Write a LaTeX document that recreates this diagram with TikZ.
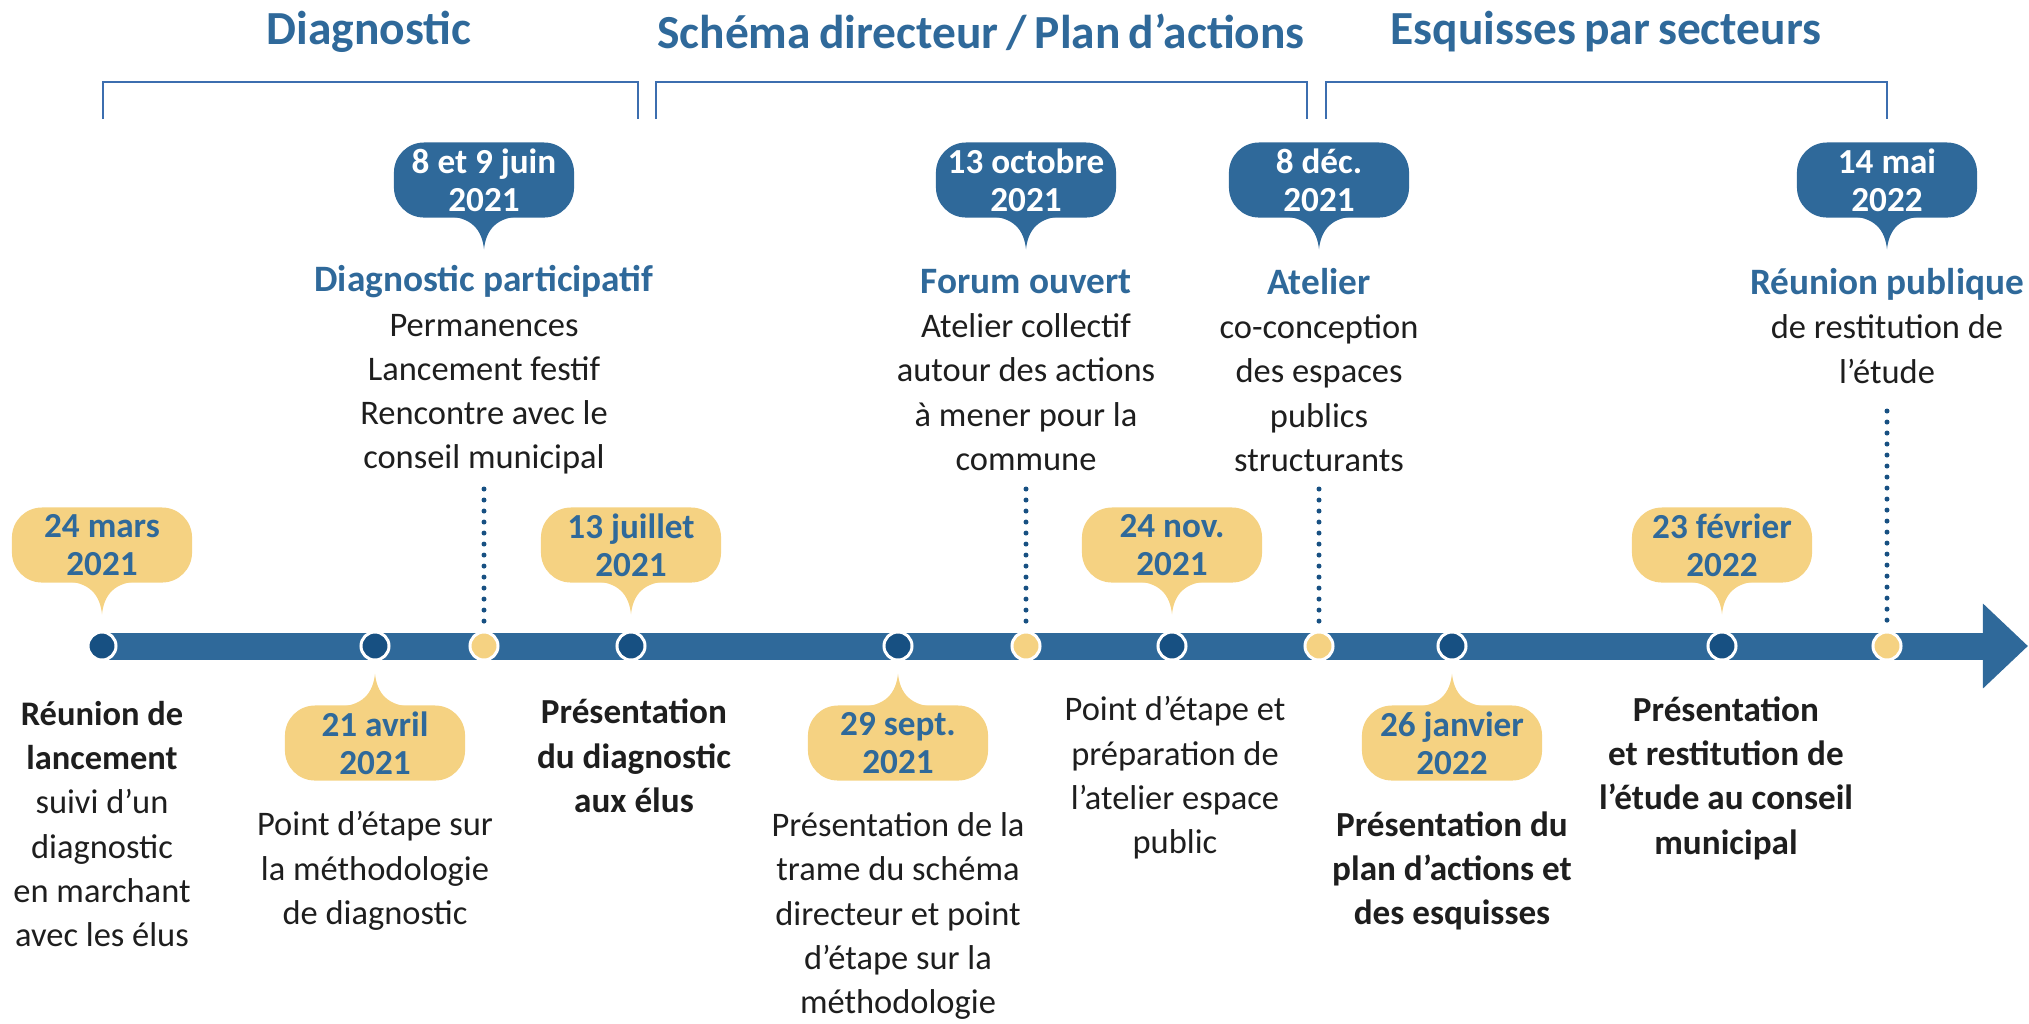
\documentclass[tikz,border=0pt]{standalone}
\usepackage{fontspec}
\setmainfont{Carlito}
\usetikzlibrary{arrows.meta,positioning}

\definecolor{barblue}{RGB}{47,105,154}
\definecolor{dotblue}{RGB}{23,80,130}
\definecolor{yel}{RGB}{245,210,130}
\definecolor{brk}{RGB}{60,110,175}
\definecolor{ink}{RGB}{30,30,30}

\newcommand{\phasefont}{\fontsize{13.5}{16}\selectfont\bfseries\spaceskip=0.17em\relax}
\tikzset{
  phase/.style={text=barblue,font=\phasefont,inner sep=0pt},
  bracket/.style={brk,line width=0.6pt},
  axis/.style={barblue,line width=0.27cm,-{Triangle[length=0.45cm,width=0.82cm]}},
  evdot/.style={circle,fill=dotblue,draw=white,line width=0.03cm,minimum size=0.28cm,inner sep=0pt},
  yeldot/.style={evdot,fill=yel},
  datebox/.style={rounded corners=0.3cm,minimum width=1.8cm,minimum height=0.75cm,inner sep=0pt,
    align=center,font=\fontsize{10}{10.8}\selectfont\bfseries},
  yelbox/.style={datebox,fill=yel,text=barblue},
  bluebox/.style={datebox,fill=barblue,text=white},
  evtxt/.style={align=center,inner sep=0pt,text=ink,font=\fontsize{9.8}{12.6}\selectfont},
  evbold/.style={evtxt,font=\fontsize{10}{12.6}\selectfont\bfseries},
  dotline/.style={dotblue,line width=0.05cm,line cap=round,dash pattern=on 0pt off 0.11cm}
}

\newcommand{\evtitle}[1]{\textcolor{barblue}{\fontsize{10.6}{12.6}\selectfont\bfseries #1}}
% pointer under / over a date box
\newcommand{\taildown}[2]{\fill[#2] ([xshift=-0.4cm,yshift=0.02cm]#1.south) .. controls +(0.28cm,0) and +(-0.02cm,0.19cm) .. ([yshift=-0.31cm]#1.south) .. controls +(0.02cm,0.19cm) and +(-0.28cm,0) .. ([xshift=0.4cm,yshift=0.02cm]#1.south) -- cycle;}
\newcommand{\tailup}[2]{\fill[#2] ([xshift=-0.4cm,yshift=-0.02cm]#1.north) .. controls +(0.28cm,0) and +(-0.02cm,-0.19cm) .. ([yshift=0.31cm]#1.north) .. controls +(0.02cm,-0.19cm) and +(-0.28cm,0) .. ([xshift=0.4cm,yshift=-0.02cm]#1.north) -- cycle;}

\begin{document}
\begin{tikzpicture}[x=0.01cm,y=-0.01cm]
	\useasboundingbox (0,0) rectangle (2029,1023);

	% phases
	\node[phase](hdiag) at (369,32){Diagnostic};
	\node[phase](hschema) at (981,32){Schéma directeur / Plan d’actions};
	\node[phase](hesq) at (1606,32){Esquisses par secteurs};
	\draw[bracket] (103,119) |- (638,82) -- (638,119);
	\draw[bracket] (656,119) |- (1307,82) -- (1307,119);
	\draw[bracket] (1326,119) |- (1887,82) -- (1887,119);

	% timeline
	\coordinate (tstart) at (102,646);
	\coordinate (tend) at (2028,646);
	\draw[axis] (tstart) -- (tend);

	\node[evdot](mars) at (102,646){};
	\node[evdot](avril) at (375,646){};
	\node[yeldot](juin) at (484,646){};
	\node[evdot](juillet) at (631,646){};
	\node[evdot](sept) at (898,646){};
	\node[yeldot](oct) at (1026,646){};
	\node[evdot](nov) at (1172,646){};
	\node[yeldot](dec) at (1319,646){};
	\node[evdot](janv) at (1452,646){};
	\node[evdot](fev) at (1722,646){};
	\node[yeldot](mai) at (1887,646){};

	% dates
	\node[yelbox](cmars) at (102,545){24 mars\\2021}; \taildown{cmars}{yel}
	\node[yelbox](cjuillet) at (631,545){13 juillet\\2021}; \taildown{cjuillet}{yel}
	\node[yelbox](cnov) at (1172,545){24 nov.\\2021}; \taildown{cnov}{yel}
	\node[yelbox](cfev) at (1722,545){23 février\\2022}; \taildown{cfev}{yel}
	\node[bluebox](cjuin) at (484,180){8 et 9 juin\\2021}; \taildown{cjuin}{barblue}
	\node[bluebox](coct) at (1026,180){13 octobre\\2021}; \taildown{coct}{barblue}
	\node[bluebox](cdec) at (1319,180){8 déc.\\2021}; \taildown{cdec}{barblue}
	\node[bluebox](cmai) at (1887,180){14 mai\\2022}; \taildown{cmai}{barblue}
	\node[yelbox](cavril) at (375,743){21 avril\\2021}; \tailup{cavril}{yel}
	\node[yelbox](csept) at (898,743){29 sept.\\2021}; \tailup{csept}{yel}
	\node[yelbox](cjanv) at (1452,743){26 janvier\\2022}; \tailup{cjanv}{yel}

	% events above
	\node[evtxt](tjuin) at (484,370){\evtitle{Diagnostic participatif}\\Permanences\\Lancement festif\\Rencontre avec le\\conseil municipal};
	\node[evtxt](toct) at (1026,370){\evtitle{Forum ouvert}\\Atelier collectif\\autour des actions\\à mener pour la\\commune};
	\node[evtxt](tdec) at (1319,370){\evtitle{Atelier}\\co-conception\\des espaces\\publics\\structurants};
	\node[evtxt](tmai) at (1887,326){\evtitle{Réunion publique}\\de restitution de\\l’étude};

	\coordinate (ljuin) at (484,489);
	\coordinate (loct) at (1026,489);
	\coordinate (ldec) at (1319,489);
	\coordinate (lmai) at (1887,411);
	\draw[dotline] (ljuin) -- (juin);
	\draw[dotline] (loct) -- (oct);
	\draw[dotline] (ldec) -- (dec);
	\draw[dotline] (lmai) -- (mai);

	% events below
	\node[evtxt](tmars) at (102,824){\textbf{Réunion de}\\\textbf{lancement}\\suivi d’un\\diagnostic\\en marchant\\avec les élus};
	\node[evtxt](tavril) at (375,871){Point d’étape sur\\la méthodologie\\de diagnostic};
	\node[evbold](tjuillet) at (634,756){Présentation\\du diagnostic\\aux élus};
	\node[evtxt](tsept) at (898,916){Présentation de la\\trame du schéma\\directeur et point\\d’étape sur la\\méthodologie};
	\node[evtxt](tnov) at (1175,778){Point d’étape et\\préparation de\\l’atelier espace\\public};
	\node[evbold](tjanv) at (1452,871){Présentation du\\plan d’actions et\\des esquisses};
	\node[evbold](tfev) at (1726,778){Présentation\\et restitution de\\l’étude au conseil\\municipal};
\end{tikzpicture}
\end{document}
